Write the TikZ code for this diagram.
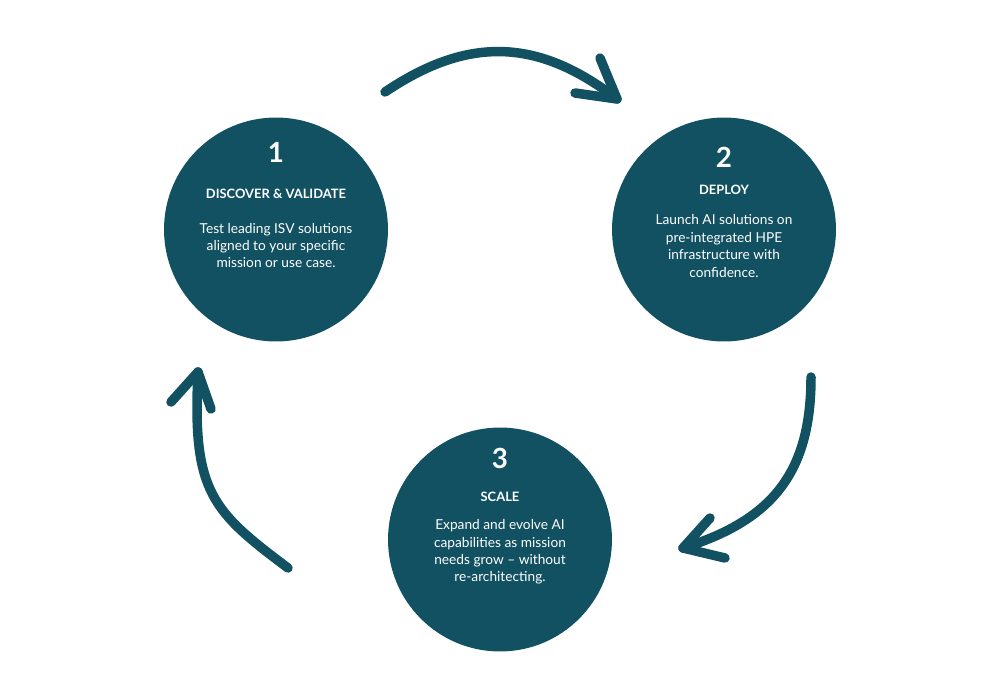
\documentclass[tikz,border=0pt]{standalone}
\usepackage{fontspec}
\setmainfont{Lato}
\usepackage{xcolor}
\definecolor{hpeteal}{RGB}{17,81,98}

\begin{document}
\begin{tikzpicture}[x=0.02cm, y=-0.02cm,
  stepdisc/.style={circle, fill=hpeteal, minimum size=4.48cm, inner sep=0pt},
  stepnum/.style={text=white, inner sep=0pt, font=\fontsize{15.8}{18}\selectfont\bfseries},
  steptitle/.style={text=white, inner sep=0pt, font=\fontsize{7.35}{9}\selectfont\bfseries},
  stepbody/.style={text=white, inner sep=0pt, align=center, font=\fontsize{7.8}{9.9}\selectfont},
  cyclearrow/.style={draw=hpeteal, line width=5.4pt, line cap=round, line join=round}]
  \useasboundingbox (0,0) rectangle (1000,676);

  \node[stepdisc] (s1) at (276,229.5) {};
  \node[stepdisc] (s2) at (724,229.5) {};
  \node[stepdisc] (s3) at (500,539.5) {};

  \node[stepnum] (n1) at (276,152) {1};
  \node[steptitle] (t1) at (276,194) {DISCOVER \& VALIDATE};
  \node[stepbody] (b1) at (276,245.5) {Test leading ISV solutions\\aligned to your specific\\mission or use case.};

  \node[stepnum] (n2) at (724,157) {2};
  \node[steptitle] (t2) at (724,190) {DEPLOY};
  \node[stepbody] (b2) at (724,246) {Launch AI solutions on\\pre-integrated HPE\\infrastructure with\\confidence.};

  \node[stepnum] (n3) at (500,458) {3};
  \node[steptitle] (t3) at (500,497) {SCALE};
  \node[stepbody] (b3) at (500,552) {Expand and evolve AI\\capabilities as mission\\needs grow – without\\re-architecting.};

  \coordinate (a1s) at (385,92);  \coordinate (a1e) at (617,99);
  \coordinate (a1u) at (600,58);  \coordinate (a1d) at (575,93);
  \coordinate (a2s) at (811,377); \coordinate (a2e) at (683,548);
  \coordinate (a2u) at (710,518); \coordinate (a2d) at (725,558);
  \coordinate (a3s) at (288,568); \coordinate (a3e) at (198,372);
  \coordinate (a3u) at (171,402); \coordinate (a3d) at (211,409);

  \draw[cyclearrow] (a1s) .. controls (468,36) and (538,38) .. (a1e);
  \draw[cyclearrow] (a2s) .. controls (811,472) and (773,520) .. (a2e);
  \draw[cyclearrow] (a3s) .. controls (212,511) and (192,492) .. (a3e);
  \foreach \u/\e/\d in {a1u/a1e/a1d, a2u/a2e/a2d, a3u/a3e/a3d}
    \draw[cyclearrow] (\u) -- (\e) -- (\d);
\end{tikzpicture}
\end{document}
